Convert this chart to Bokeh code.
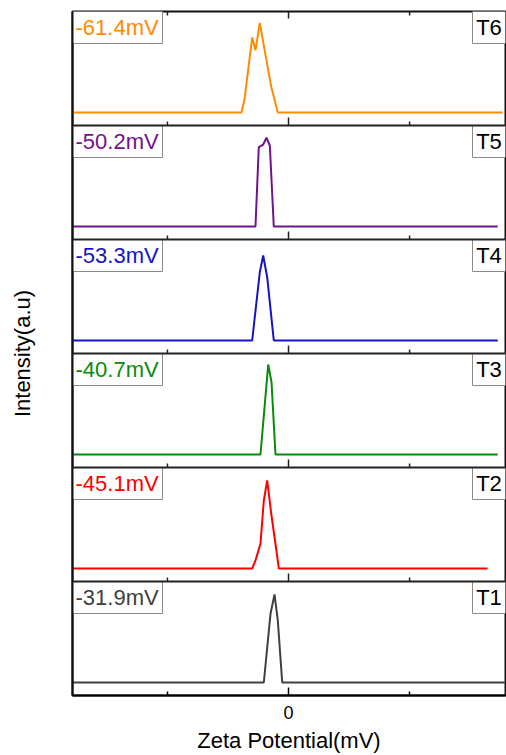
from bokeh.plotting import figure
from bokeh.models import FixedTicker, Span, Range1d
from bokeh.embed import file_html
from bokeh.resources import INLINE
from bokeh.core.properties import value

# ---------------- data ----------------
samples = ["T1", "T2", "T3", "T4", "T5", "T6"]
zeta_labels = ["-31.9mV", "-45.1mV", "-40.7mV", "-53.3mV", "-50.2mV", "-61.4mV"]
colors = ["#404040", "#FF0000", "#0A8A0A", "#1414C4", "#72128C", "#FF8C00"]

t1_x = [-446, -51.0, -37.2, -28.9, -22.1, -13.0, 452]
t1_y = [0, 0, 0.772, 0.989, 0.697, 0, 0]

t2_x = [-446, -75.0, -68.2, -57.9, -51.0, -44.0, -35.7, -26.9, -20.0, 411]
t2_y = [0, 0, 0.09, 0.278, 0.764, 0.989, 0.615, 0.278, 0, 0]

t3_x = [-446, -57.9, -41.9, -35.1, -26.9, 432]
t3_y = [0, 0, 1.011, 0.812, 0, 0]

t4_x = [-446, -75.0, -59.3, -52.3, -44.0, -30.4, 432]
t4_y = [0, 0, 0.767, 0.955, 0.711, 0, 0]

t5_x = [-446, -68.2, -61.4, -52.3, -45.5, -38.6, -30.4, 432]
t5_y = [0, 0, 0.891, 0.921, 0.997, 0.910, 0, 0]

t6_x = [-446, -97.1, -90.9, -75.0, -68.2, -59.3, -47.5, -35.7, -22.1, 442]
t6_y = [0, 0, 0.146, 0.843, 0.700, 1.007, 0.644, 0.288, 0, 0]

series_x = [t1_x, t2_x, t3_x, t4_x, t5_x, t6_x]
series_y = [t1_y, t2_y, t3_y, t4_y, t5_y, t6_y]

x_limits = [-446, 448]
major_ticks = [0]
minor_ticks = [-250, 250]

# ---------------- layout / style ----------------
FRAME_W, FRAME_H = 433, 684
N = len(samples)
PANEL_PX = FRAME_H / N
BASE = 13 / PANEL_PX        # baseline offset inside a panel
SCALE = 89 / PANEL_PX       # intensity scale inside a panel
FONT = value("Liberation Sans")

XMIN, XMAX = x_limits
px_per_x = FRAME_W / (XMAX - XMIN)

p = figure(frame_width=FRAME_W, frame_height=FRAME_H,
           x_range=Range1d(XMIN, XMAX), y_range=Range1d(0, N),
           output_backend="svg", toolbar_location=None,
           min_border_left=72, min_border_right=1, min_border_top=11,
           min_border_bottom=56)
p.background_fill_color = "white"
p.border_fill_color = "white"
p.grid.visible = False
p.outline_line_color = "#111111"
p.outline_line_width = 2

# panel separators
for k in range(1, N):
    p.add_layout(Span(location=k, dimension="width", line_color="#222222",
                      line_width=2))

# lines
for k in range(N):
    ys = [k + BASE + v * SCALE for v in series_y[k]]
    p.line(series_x[k], ys, line_color=colors[k], line_width=2)

# inward ticks at internal panel bottoms and at the top edge
for k in range(1, N):
    p.ray(x=major_ticks, y=[k] * len(major_ticks), length=8, angle=1.5708,
          length_units="screen", line_color="#222222", line_width=1.5)
    p.ray(x=minor_ticks, y=[k] * len(minor_ticks), length=4, angle=1.5708,
          length_units="screen", line_color="#222222", line_width=1.5)
p.ray(x=major_ticks, y=[N] * len(major_ticks), length=7, angle=-1.5708,
      length_units="screen", line_color="#222222", line_width=1.5)
p.ray(x=minor_ticks, y=[N] * len(minor_ticks), length=4, angle=-1.5708,
      length_units="screen", line_color="#222222", line_width=1.5)

# label boxes
BW_L = 90 / px_per_x
BW_R = 33 / px_per_x
BH = 32 / PANEL_PX
tops = [k + 1 for k in range(N)]
p.quad(left=[XMIN] * N, right=[XMIN + BW_L] * N, top=tops,
       bottom=[t - BH for t in tops], fill_color="white",
       line_color="#8a8a8a", line_width=1)
p.quad(left=[XMAX - BW_R] * N, right=[XMAX] * N, top=tops,
       bottom=[t - BH for t in tops], fill_color="white",
       line_color="#8a8a8a", line_width=1)

p.text(x=[XMIN] * N, y=tops, text=zeta_labels, x_offset=3, y_offset=16,
       text_align="left", text_baseline="middle", text_color=colors,
       text_font=FONT, text_font_size="22px")
p.text(x=[XMAX] * N, y=tops, text=samples, x_offset=-16.5, y_offset=16,
       text_align="center", text_baseline="middle", text_color="black",
       text_font=FONT, text_font_size="22px")

# axes
p.xaxis.ticker = FixedTicker(ticks=major_ticks, minor_ticks=minor_ticks)
p.xaxis.major_tick_in = 8
p.xaxis.major_tick_out = 0
p.xaxis.minor_tick_in = 4
p.xaxis.minor_tick_out = 0
p.xaxis.major_tick_line_width = 1.5
p.xaxis.minor_tick_line_width = 1.5
p.xaxis.axis_line_width = 2
p.xaxis.major_label_text_font = "Liberation Sans"
p.xaxis.major_label_text_font_size = "18px"
p.xaxis.major_label_text_color = "black"
p.xaxis.major_label_standoff = 10
p.xaxis.axis_label = "Zeta Potential(mV)"
p.xaxis.axis_label_text_font = "Liberation Sans"
p.xaxis.axis_label_text_font_size = "22px"
p.xaxis.axis_label_text_font_style = "normal"
p.xaxis.axis_label_text_color = "black"
p.xaxis.axis_label_standoff = 6

p.yaxis.ticker = FixedTicker(ticks=[])
p.yaxis.major_tick_line_color = None
p.yaxis.minor_tick_line_color = None
p.yaxis.major_label_text_font_size = "0px"
p.yaxis.axis_line_width = 2
p.yaxis.axis_line_color = "#111111"
p.yaxis.axis_label = "Intensity(a.u)"
p.yaxis.axis_label_text_font = "Liberation Sans"
p.yaxis.axis_label_text_font_size = "22px"
p.yaxis.axis_label_text_font_style = "normal"
p.yaxis.axis_label_text_color = "black"
p.yaxis.axis_label_standoff = 38

open("out.html", "w").write(file_html(p, INLINE))
